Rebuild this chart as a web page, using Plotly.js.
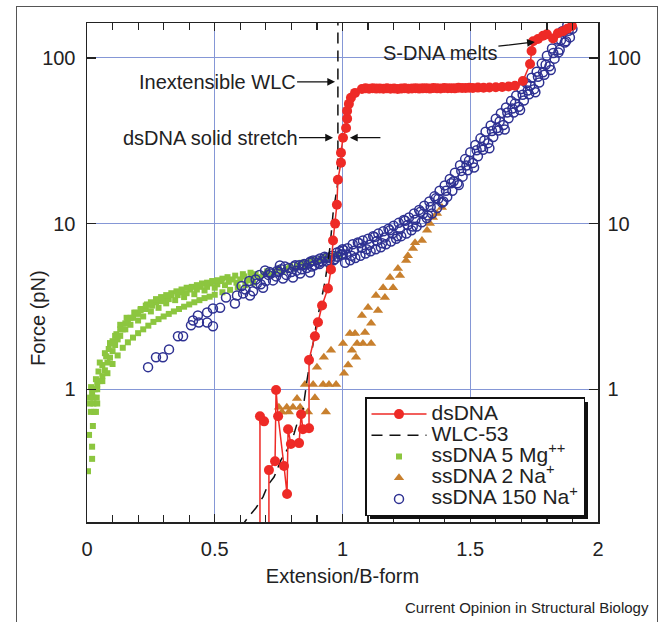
<!DOCTYPE html>
<html>
<head>
<meta charset="utf-8">
<script src="https://cdn.plot.ly/plotly-3.0.1.min.js"></script>
<style>
html,body{margin:0;padding:0;background:#fff;}
#wrap{position:relative;width:663px;height:622px;overflow:hidden;}
#chart{width:663px;height:622px;}
.ov{position:absolute;pointer-events:none;box-sizing:border-box;}
</style>
</head>
<body>
<div id="wrap">
<div id="chart"></div>
<div id="frame" class="ov" style="left:16px;top:6px;width:642px;height:700px;border:1px solid #555;"></div>
</div>
<script>
// ---- data ----
const seriesNames = ['dsDNA', 'WLC-53', 'ssDNA 5 Mg<sup>++</sup>', 'ssDNA 2 Na<sup>+</sup>', 'ssDNA 150 Na<sup>+</sup>'];

const dsX = [0.693,0.677,0.677,0.712,0.712,0.736,0.740,0.748,0.771,0.783,0.787,0.798,0.830,0.838,0.845,0.869,0.869,
  0.892,0.904,0.920,0.943,0.955,0.963,0.971,0.978,0.982,0.994,0.994,1.002,1.014,1.018,1.018,1.025,1.033,1.049,
  1.076,1.090,1.104,1.118,1.132,1.146,1.160,1.174,1.188,1.202,1.216,1.230,1.244,1.258,1.272,1.286,1.300,1.314,
  1.328,1.342,1.356,1.370,1.384,1.398,1.412,1.426,1.440,1.454,1.468,1.482,1.496,1.510,1.530,1.552,1.575,1.600,
  1.625,1.650,1.675,1.706,1.734,1.740,1.746,1.765,1.785,1.800,1.824,1.843,1.863,1.880,1.898];
const dsF = [0.64,0.687,0.05,0.05,0.325,0.368,0.99,0.687,0.344,0.233,0.574,0.467,0.473,0.707,0.574,0.582,1.5,
  2.09,2.54,3.2,4.06,5.28,7.9,10,13,18.4,23.3,26.8,33,37.8,43,47.9,52.8,57.5,61.5,
  65.0,65.5,65.2,65.6,65.3,65.4,65.1,65.5,65.2,65.4,65.0,65.3,65.6,65.2,65.4,65.7,65.3,65.5,
  65.6,65.3,65.8,65.5,65.4,65.9,65.6,65.7,65.5,66.0,65.8,65.9,66.1,65.8,66.2,66.0,66.3,66.6,
  66.8,67.2,68.0,72.6,92,110,126,130,136,139,131,141,145,150,156];

const wlcX = [0.600,0.622,0.661,0.689,0.708,0.732,0.759,0.783,0.806,0.822,0.845,0.861,0.880,0.900,0.932,0.951,0.963,0.972,0.980,0.982,0.982,0.982];
const wlcF = [0.145,0.162,0.192,0.224,0.264,0.295,0.373,0.43,0.51,0.62,0.75,1.13,1.7,2.6,4.5,7.2,11.5,14.5,17,25,60,170];

const mgX = [0.004,0.020,0.020,0.008,0.023,0.015,0.027,0.035,0.012,0.025,0.040,0.012,0.025,0.038,0.020,0.030,0.016,0.040,0.050,0.035,
  0.060,0.045,0.070,0.060,0.080,0.075,0.090,0.100,0.085,0.110,0.100,0.120,0.115,0.130,0.140,0.130,0.150,0.160,0.155,0.170,
  0.180,0.185,0.200,0.200,0.210,0.220,0.230,0.235,0.250,0.255,0.270,0.280,0.290,0.300,0.310,0.320,0.330,0.345,0.355,0.370,
  0.380,0.390,0.405,0.420,0.430,0.445,0.460,0.470,0.485,0.500,0.510,0.525,0.540,0.555,0.570,0.585,0.600,0.615,0.630,0.645,
  0.660,0.675,0.690,0.705,0.720,0.735,0.750,0.765,0.780,0.795,0.810,0.825,0.840,0.855,0.870,0.885,0.900,0.915,0.930,0.945,
  0.960,0.975,0.990,
  0.050,0.070,0.090,0.110,0.130,0.150,0.170,0.190,0.210,0.230,0.250,0.270,0.290,0.310,0.330,0.350,0.370,0.390,0.410,0.430,
  0.450,0.470,0.490,0.510,0.530,0.550,0.580,0.610,0.640,
  0.040,0.060,0.080,0.100,0.120,0.140,0.160,0.180,0.200,0.220,0.240,0.260,0.280,0.300,0.320,0.340,0.360,0.380,0.400,0.420,
  0.440,0.460,0.480,0.500,0.530,0.560,0.590,0.620,0.650];
const mgF = [0.32,0.38,0.45,0.53,0.60,0.73,0.73,0.73,0.82,0.82,0.82,0.89,0.89,0.89,0.96,1.00,1.03,1.07,1.12,1.15,
  1.20,1.28,1.30,1.40,1.45,1.58,1.55,1.70,1.75,1.85,1.95,2.00,2.15,2.10,2.30,2.45,2.30,2.55,2.70,2.45,
  2.70,2.90,2.60,2.85,3.00,2.75,3.05,3.25,2.95,3.20,3.35,3.10,3.40,3.55,3.30,3.50,3.70,3.45,3.70,3.85,
  3.60,3.80,4.00,3.75,4.00,4.15,3.95,4.15,4.35,4.10,4.30,4.50,4.25,4.45,4.60,4.40,4.60,4.80,4.55,4.75,
  4.95,4.75,4.95,5.15,4.95,5.15,5.35,5.15,5.35,5.55,5.35,5.60,5.80,5.60,5.85,6.05,5.85,6.10,6.30,6.05,
  6.35,6.55,6.40,
  1.45,1.65,1.90,2.10,2.30,2.50,2.70,2.90,3.05,3.20,3.35,3.50,3.60,3.70,3.80,3.90,4.00,4.10,4.15,4.25,
  4.35,4.40,4.50,4.55,4.65,4.75,4.85,4.95,5.05,
  1.00,1.12,1.25,1.42,1.60,1.78,1.92,2.05,2.18,2.30,2.42,2.55,2.65,2.75,2.85,2.95,3.05,3.15,3.25,3.35,
  3.45,3.55,3.62,3.72,3.85,3.98,4.12,4.25,4.40];

const naX = [0.751,0.782,0.806,0.834,0.763,0.790,0.865,0.935,0.790,0.822,0.892,0.853,0.885,0.924,0.947,0.975,
  0.900,0.927,0.955,1.002,1.006,1.022,1.037,1.053,1.029,1.049,1.057,1.080,1.112,1.088,1.112,1.076,1.100,1.139,
  1.131,1.166,1.159,1.186,1.198,1.225,1.217,1.249,1.256,1.276,1.284,1.311,1.331,1.342,1.354,1.370,1.389];
const naF = [0.78,0.78,0.78,0.78,0.73,0.73,0.73,0.73,0.57,0.88,0.89,1.07,1.07,1.07,1.07,1.07,
  1.36,1.56,1.72,1.89,1.25,1.40,1.72,1.56,2.17,2.17,1.89,1.89,1.89,2.20,2.50,2.79,3.12,2.99,
  3.68,3.58,4.10,4.72,4.10,4.86,5.35,5.98,6.40,7.07,7.67,7.90,9.10,10.0,10.9,11.5,12.5];

const na150X = [0.239,0.270,0.297,0.321,0.356,0.376,0.407,0.415,0.434,0.438,0.470,0.493,0.470,0.493,0.521,0.544,0.579,0.587,0.611,0.638,
  0.665,0.697,0.689,0.728,0.755,0.767,0.806,0.834,0.873,0.885,0.912,0.951,0.978,
  0.620,0.650,0.660,0.680,0.700,0.710,0.720,0.740,0.750,0.760,0.780,0.790,0.800,0.810,0.820,0.830,0.840,0.850,0.860,0.870,
  0.880,0.890,0.900,0.910,0.920,0.930,0.940,0.950,0.960,0.970,0.980,0.990,1.000,1.000,
  1.01,1.02,1.03,1.04,1.05,1.06,1.07,1.08,1.09,1.10,1.11,1.12,1.13,1.14,1.15,1.16,1.17,1.18,1.19,1.20,
  1.21,1.22,1.23,1.24,1.25,1.26,1.27,1.28,1.29,1.30,1.31,1.32,1.33,1.34,1.35,1.36,1.37,1.38,1.39,1.40,
  1.41,1.42,1.43,1.44,1.45,1.46,1.47,1.48,1.49,1.50,1.51,1.52,1.53,1.54,1.55,1.56,1.57,1.58,1.59,1.60,
  1.61,1.62,1.63,1.64,1.65,1.66,1.67,1.68,1.69,1.70,1.71,1.72,1.73,1.74,1.75,1.76,1.77,1.78,1.79,1.80,
  1.81,1.82,1.83,1.84,1.85,1.86,1.87,1.88,1.89,1.90,
  1.015,1.045,1.075,1.105,1.135,1.165,1.195,1.225,1.255,1.285,1.315,1.345,1.375,1.405,1.435,1.465,1.495,1.525,
  1.555,1.585,1.615,1.645,1.675,1.705,1.735,1.765,1.795,1.825,1.855,1.885,
  1.005,1.035,1.065,1.095,1.125,1.155,1.185,1.215,1.245,1.275,1.305,1.335,1.365,1.395,1.425,1.455,1.485,1.515,
  1.545,1.575,1.605,1.635,1.665,1.695,1.725,1.755,1.785,1.815,1.845,1.875,
  0.605,0.635,0.675,0.715,0.745,0.775,0.815,0.845,0.875,0.905,0.935,0.965,0.995];
const na150F = [1.36,1.56,1.56,1.74,2.09,2.09,2.43,2.60,2.79,2.53,2.53,2.40,2.91,3.07,3.10,3.58,3.29,3.68,3.79,3.68,
  4.35,5.21,4.10,4.54,5.58,4.66,4.72,5.00,5.06,5.98,6.15,6.23,6.69,
  4.0,3.9,4.6,4.3,4.5,4.9,5.0,4.8,5.1,5.3,4.9,5.4,5.1,5.5,5.2,5.6,5.3,5.7,5.4,5.8,
  5.5,5.6,6.0,5.7,5.9,6.3,5.9,6.0,6.4,6.1,6.3,6.8,6.5,7.0,
  5.8,7.1,6.0,7.5,6.2,7.7,6.4,7.9,6.6,8.1,6.8,8.4,7.0,8.7,7.2,9.0,7.5,9.3,7.8,9.7,
  8.1,10.1,8.4,10.5,8.7,10.9,9.1,11.5,9.6,12.1,10.2,12.8,10.8,13.6,11.5,14.6,12.4,15.8,13.4,17.0,
  14.5,18.6,15.8,20.3,17.5,22.5,19.2,24.5,21.0,27.0,23.2,29.8,25.5,32.7,27.9,35.8,30.6,39.1,33.3,42.9,
  36.5,46.4,39.4,50.2,43.2,55.0,46.8,59.4,50.7,64.9,55.4,70.4,60.3,76.0,64.8,82.5,71.1,92.4,79.2,103,
  89.1,114,99,129,112,145,124,158,133,150,
  6.5,6.85,7.15,7.45,7.85,8.25,8.7,9.25,9.8,10.55,11.45,12.6,14.1,15.8,18.0,20.8,24.0,27.7,
  31.7,36.2,41.4,46.8,53,60,68,77,91,107,128,146,
  6.9,6.4,7.6,7.0,8.3,7.6,9.1,8.4,10.4,9.6,11.8,11.2,14.2,13.6,17.5,17.1,22.4,21.8,
  29.0,28.5,37.8,37.0,49.5,48.5,63.5,62.0,82.0,84.5,108,126,
  4.2,4.5,4.9,5.1,5.2,5.5,5.6,5.6,5.9,5.8,6.2,6.0,6.5];

const xRange = [0, 2];
const yRangeF = [0.158, 162.5];
const yTickVals = [1, 10, 100];
const yTickText = ['1', '10', '100'];

// ---- styles ----
const FONT = 'Liberation Sans, Arial, Helvetica, sans-serif';
const RED = '#ee2a26', GREEN = '#8cc63f', ORANGE = '#c8802e', BLUE = '#2e3192', GRID = '#8597d6';
const big = s => '<span style="font-size:21px">' + s + '</span>';

const traces = [
  {x: mgX, y: mgF, name: big(seriesNames[2]), mode: 'markers', type: 'scatter', legendrank: 3,
   marker: {symbol: 'square', size: 6, color: GREEN}},
  {x: naX, y: naF, name: big(seriesNames[3]), mode: 'markers', type: 'scatter', legendrank: 4,
   marker: {symbol: 'triangle-up', size: 9, color: ORANGE}},
  {x: na150X, y: na150F, name: big(seriesNames[4]), mode: 'markers', type: 'scatter', legendrank: 5,
   marker: {symbol: 'circle-open', size: 9, color: BLUE, line: {width: 1.5, color: BLUE}}},
  {x: wlcX, y: wlcF, name: big(seriesNames[1]), mode: 'lines', type: 'scatter', legendrank: 2,
   line: {color: '#111', width: 1.5, dash: '11px,7px'}},
  {x: dsX, y: dsF, name: big(seriesNames[0]), mode: 'lines+markers', type: 'scatter', legendrank: 1,
   line: {color: RED, width: 1.5}, marker: {symbol: 'circle', size: 10, color: RED}},
  {x: [], y: [], yaxis: 'y2', showlegend: false, hoverinfo: 'skip', type: 'scatter', mode: 'markers'}
];

const lg = v => Math.log10(v);
const W = 663, H = 622, L = 87, R = 65, T = 23, B = 100;
const pw = W - L - R, ph = H - T - B;
const px2paperX = p => (p - L) / pw;
const px2paperY = p => (H - B - p) / ph;

const yAxisCommon = {
  type: 'log', range: [lg(yRangeF[0]), lg(yRangeF[1])], tickvals: yTickVals, ticktext: yTickText,
  ticks: 'inside', ticklen: 9, tickwidth: 1.3, tickcolor: '#222',
  showline: true, linecolor: '#222', linewidth: 1.5,
  tickfont: {family: FONT, size: 20, color: '#222'}, zeroline: false
};

const layout = {
  width: W, height: H,
  margin: {l: L, r: R, t: T, b: B, pad: 0},
  paper_bgcolor: 'rgba(0,0,0,0)', plot_bgcolor: '#fff',
  font: {family: FONT, size: 20, color: '#222'},
  showlegend: true,
  legend: {x: px2paperX(365), xanchor: 'left', y: px2paperY(397), yanchor: 'top',
    bgcolor: '#fff', bordercolor: '#111', borderwidth: 1.5,
    font: {family: FONT, size: 14, color: '#222'}, tracegroupgap: 0, itemwidth: 55},
  xaxis: {
    range: xRange, tick0: 0, dtick: 0.5, ticks: 'inside', ticklen: 8, tickwidth: 1.3, tickcolor: '#222',
    showline: true, linecolor: '#222', linewidth: 1.5, mirror: 'ticks',
    showgrid: true, gridcolor: GRID, gridwidth: 1, zeroline: false,
    tickfont: {family: FONT, size: 20, color: '#222'}, ticklabelstandoff: 8,
    minor: {tick0: 0, dtick: 0.1, ticks: 'inside', ticklen: 7, tickcolor: '#222', tickwidth: 1.2, showgrid: false},
    title: {text: 'Extension/B-form', font: {family: FONT, size: 20, color: '#222'}, standoff: 10}
  },
  yaxis: Object.assign({}, yAxisCommon, {
    showgrid: true, gridcolor: GRID, gridwidth: 1, ticklabelstandoff: 6
  }),
  yaxis2: Object.assign({}, yAxisCommon, {overlaying: 'y', side: 'right', showgrid: false, ticklabelstandoff: 4}),
  annotations: [
    {xref: 'paper', yref: 'paper', x: px2paperX(38), y: px2paperY(318), xanchor: 'center', yanchor: 'middle',
     text: 'Force (pN)', textangle: -90, showarrow: false, font: {family: FONT, size: 20, color: '#222'}},
    {x: 1.753, y: lg(124.8), xref: 'x', yref: 'y', text: 'S-DNA melts', showarrow: true, ax: -95, ay: 11,
     arrowhead: 2, arrowsize: 1.2, arrowwidth: 1.3, arrowcolor: '#111', font: {family: FONT, size: 20, color: '#222'}},
    {x: 0.971, y: lg(71.7), xref: 'x', yref: 'y', text: 'Inextensible WLC', showarrow: true, ax: -118, ay: 0,
     arrowhead: 2, arrowsize: 1.2, arrowwidth: 1.3, arrowcolor: '#111', font: {family: FONT, size: 20, color: '#222'}},
    {x: 0.963, y: lg(33), xref: 'x', yref: 'y', text: 'dsDNA solid stretch', showarrow: true, ax: -123, ay: 0,
     arrowhead: 2, arrowsize: 1.2, arrowwidth: 1.3, arrowcolor: '#111', font: {family: FONT, size: 20, color: '#222'}},
    {x: 1.029, y: lg(33), xref: 'x', yref: 'y', text: '', showarrow: true, ax: 32, ay: 0,
     arrowhead: 2, arrowsize: 1.2, arrowwidth: 1.3, arrowcolor: '#111'},
    {xref: 'paper', yref: 'paper', x: px2paperX(651), y: px2paperY(607), xanchor: 'right', yanchor: 'middle',
     text: 'Current Opinion in Structural Biology', showarrow: false, font: {family: FONT, size: 15, color: '#222'}}
  ]
};

function addShadow(gd) {
  const bg = gd.querySelector('.legend .bg');
  if (!bg) return;
  const lb = bg.getBoundingClientRect();
  const cb = document.getElementById('wrap').getBoundingClientRect();
  const l = lb.left - cb.left, t = lb.top - cb.top, w = lb.width, h = lb.height, s = 4;
  const wrap = document.getElementById('wrap');
  const a = document.createElement('div');
  a.className = 'ov';
  a.style.cssText = 'left:' + (l + w) + 'px;top:' + (t + s) + 'px;width:' + s + 'px;height:' + h + 'px;background:#111;';
  const b = document.createElement('div');
  b.className = 'ov';
  b.style.cssText = 'left:' + (l + s) + 'px;top:' + (t + h) + 'px;width:' + w + 'px;height:' + s + 'px;background:#111;';
  wrap.appendChild(a); wrap.appendChild(b);
}

Plotly.newPlot('chart', traces, layout, {displayModeBar: false, staticPlot: true}).then(addShadow);
</script>
</body>
</html>
